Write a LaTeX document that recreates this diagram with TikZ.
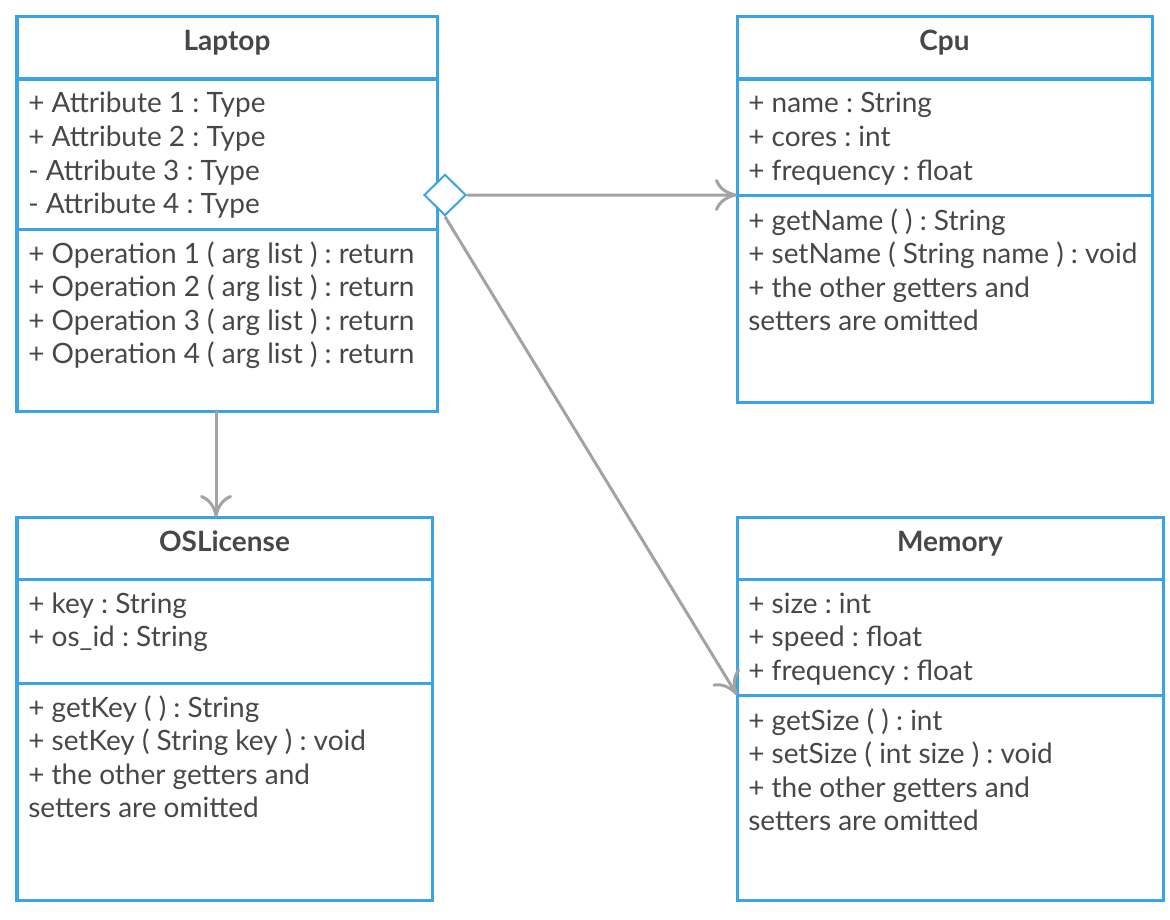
\documentclass[tikz,border=0pt]{standalone}
\usepackage{fontspec}
\setmainfont{Lato}
\usetikzlibrary{arrows.meta,shapes.geometric}
\definecolor{umlblue}{HTML}{3AA3E3}
\definecolor{umltext}{HTML}{474747}
\definecolor{umlgray}{HTML}{A3A3A3}
\frenchspacing

\begin{document}
\begin{tikzpicture}[x=0.025cm,y=-0.025cm,
  part/.style={draw=umlblue,line width=0.075cm,anchor=north west,inner sep=0pt,outer sep=0pt},
  title/.style={anchor=base,text=umltext,inner sep=0pt,font=\fontsize{19.9}{22}\selectfont\bfseries},
  member/.style={anchor=base west,text=umltext,inner sep=0pt,font=\fontsize{19.9}{22}\selectfont},
  link/.style={draw=umlgray,line width=0.075cm,-{Computer Modern Rightarrow[length=0.55cm,width=0.8cm]}}]
\useasboundingbox (0,0) rectangle (1170,920);

% Laptop
\node[part,minimum width=10.5cm,minimum height=1.55cm] (laptop-head) at (17,17) {};
\node[part,minimum width=10.5cm,minimum height=3.75cm] (laptop-attr) at (17,79) {};
\node[part,minimum width=10.5cm,minimum height=4.55cm] (laptop-ops) at (17,229) {};
\node[title] (laptop-name) at (227,51) {Laptop};
\foreach \t [count=\i from 0] in {{+ Attribute 1 : Type},{+ Attribute 2 : Type},{- Attribute 3 : Type},{- Attribute 4 : Type}}
  \node[member] (laptop-a\i) at (28,113+33.5*\i) {\t};
\foreach \t [count=\i from 0] in {1,2,3,4}
  \node[member] (laptop-o\i) at (28,263+33.5*\i) {+ Operation \t\ ( arg list ) : return};

% Cpu
\node[part,minimum width=10.375cm,minimum height=1.55cm] (cpu-head) at (737,17) {};
\node[part,minimum width=10.375cm,minimum height=2.9cm] (cpu-attr) at (737,79) {};
\node[part,minimum width=10.375cm,minimum height=5.175cm] (cpu-ops) at (737,195) {};
\node[title] (cpu-name) at (944.5,51) {Cpu};
\foreach \t [count=\i from 0] in {{+ name : String},{+ cores : int},{+ frequency : float}}
  \node[member] (cpu-a\i) at (748,113+33.5*\i) {\t};
\foreach \t [count=\i from 0] in {{+ getName ( ) : String},{+ setName ( String name ) : void},{+ the other getters and},{setters are omitted}}
  \node[member] (cpu-o\i) at (748,230+33.5*\i) {\t};

% OSLicense
\node[part,minimum width=10.375cm,minimum height=1.55cm] (os-head) at (17,517) {};
\node[part,minimum width=10.375cm,minimum height=2.6cm] (os-attr) at (17,579) {};
\node[part,minimum width=10.375cm,minimum height=5.425cm] (os-ops) at (17,683) {};
\node[title] (os-name) at (224.5,551) {OSLicense};
\foreach \t [count=\i from 0] in {{+ key : String},{+ os\_id : String}}
  \node[member] (os-a\i) at (28,613+33.5*\i) {\t};
\foreach \t [count=\i from 0] in {{+ getKey ( ) : String},{+ setKey ( String key ) : void},{+ the other getters and},{setters are omitted}}
  \node[member] (os-o\i) at (28,717+33.5*\i) {\t};

% Memory
\node[part,minimum width=10.65cm,minimum height=1.55cm] (mem-head) at (737,517) {};
\node[part,minimum width=10.65cm,minimum height=2.9cm] (mem-attr) at (737,579) {};
\node[part,minimum width=10.65cm,minimum height=5.125cm] (mem-ops) at (737,695) {};
\node[title] (mem-name) at (950,551) {Memory};
\foreach \t [count=\i from 0] in {{+ size : int},{+ speed : float},{+ frequency : float}}
  \node[member] (mem-a\i) at (748,613+33.5*\i) {\t};
\foreach \t [count=\i from 0] in {{+ getSize ( ) : int},{+ setSize ( int size ) : void},{+ the other getters and},{setters are omitted}}
  \node[member] (mem-o\i) at (748,730+33.5*\i) {\t};

% links
\draw[link] ([xshift=-0.275cm]laptop-ops.south) -- ([xshift=-0.275cm]laptop-ops.south |- os-head.north);
\node[diamond,draw=umlblue,line width=0.05cm,fill=white,minimum width=1.05cm,minimum height=1.03cm,inner sep=0pt] (agg) at (445,195) {};
\draw[link] (agg.east) -- (cpu-attr.south west);
\draw[link] (agg.south) -- (mem-attr.south west);
\end{tikzpicture}
\end{document}
